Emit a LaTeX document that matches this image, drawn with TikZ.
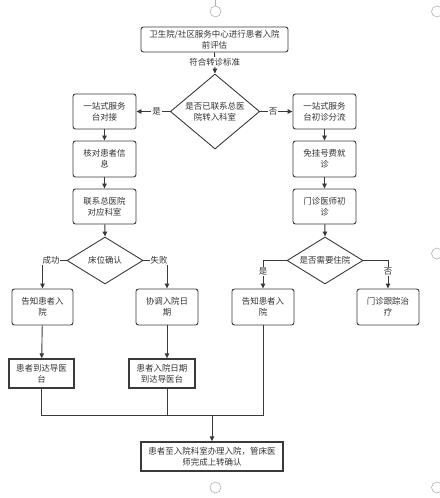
\documentclass[tikz,border=0pt]{standalone}
\usepackage{fontspec}
\setmainfont{Noto Sans CJK SC}
\usetikzlibrary{shapes.geometric,arrows.meta}
\definecolor{ln}{HTML}{3A3A3A}
\definecolor{tx}{HTML}{333333}
\begin{document}
\begin{tikzpicture}[x=1bp,y=-1bp,
  every node/.style={font=\fontsize{8.5}{11}\selectfont, text=tx, align=center, inner sep=0pt},
  rbox/.style={draw=ln, line width=0.9bp, rounded corners=2.5bp},
  sbox/.style={draw=ln, line width=1.4bp},
  dia/.style={draw=ln, line width=0.9bp, diamond, aspect=1.6},
  conn/.style={draw=ln, line width=0.9bp},
  arr/.style={conn, -{Triangle[length=5bp,width=4.5bp]}},
  lbl/.style={fill=white, inner sep=1pt},
  handle/.style={draw=gray!60, line width=0.6bp}
]
\useasboundingbox (0,0) rectangle (440,498);
% selection handles
\draw[handle] (215.5,0) -- (215.5,6);
\draw[handle] (215.5,11.5) circle (5.5);
\draw[handle] (215.5,487.5) circle (5.5);
\draw[handle] (437,11.5) circle (5.5);
\draw[handle] (437,253.5) circle (5.5);
\draw[handle] (437,487.5) circle (5.5);

% nodes
\node[rbox, minimum width=147bp, minimum height=25bp] (top) at (214.5,39.5) {卫生院/社区服务中心进行患者入院\\前评估};
\node[dia, minimum width=76bp, minimum height=75bp] (d1) at (215,111.5) {是否已联系总医\\院转入科室};
\node[rbox, minimum width=63bp, minimum height=35bp] (a1) at (104.5,111.5) {一站式服务\\台对接};
\node[rbox, minimum width=63bp, minimum height=35bp] (b1) at (324.5,111.5) {一站式服务\\台初诊分流};
\node[rbox, minimum width=63bp, minimum height=36bp] (a2) at (104.5,159) {核对患者信\\息};
\node[rbox, minimum width=63bp, minimum height=36bp] (b2) at (324.5,159) {免挂号费就\\诊};
\node[rbox, minimum width=63bp, minimum height=35bp] (a3) at (104.5,206.5) {联系总医院\\对应科室};
\node[rbox, minimum width=63bp, minimum height=35bp] (b3) at (324.5,206.5) {门诊医师初\\诊};
\node[dia, minimum width=76bp, minimum height=47bp] (d2) at (105,260.5) {床位确认};
\node[dia, minimum width=76bp, minimum height=47bp] (d3) at (325,260.5) {是否需要住院};
\node[rbox, minimum width=61bp, minimum height=36bp] (l1) at (42.5,307) {告知患者入\\院};
\node[rbox, minimum width=62bp, minimum height=36bp] (m1) at (167,307) {协调入院日\\期};
\node[rbox, minimum width=62bp, minimum height=36bp] (r1) at (263,307) {告知患者入\\院};
\node[rbox, minimum width=62bp, minimum height=36bp] (r2) at (388,307) {门诊跟踪治\\疗};
\node[sbox, minimum width=65bp, minimum height=29bp] (l2) at (41.5,373.5) {患者到达导医\\台};
\node[sbox, minimum width=66bp, minimum height=29bp] (m2) at (162,373.5) {患者入院日期\\到达导医台};
\node[sbox, minimum width=142bp, minimum height=29bp] (fin) at (212,456.5) {患者至入院科室办理入院，管床医\\师完成上转确认};

% connectors
\draw[arr] (top.south) -- node[lbl, pos=0.45] {符合转诊标准} (d1.north);
\draw[arr] (d1.west) -- node[lbl, pos=0.4] {是} (a1.east);
\draw[arr] (d1.east) -- node[lbl, pos=0.4] {否} (b1.west);
\draw[arr] (a1) -- (a2);
\draw[arr] (a2) -- (a3);
\draw[arr] (a3) -- (d2.north);
\draw[arr] (b1) -- (b2);
\draw[arr] (b2) -- (b3);
\draw[arr] (b3) -- (d3.north);
\draw[arr] (d2.west) -| (l1.north);
\node[lbl] at (51,260.5) {成功};
\draw[arr] (d2.east) -| (m1.north);
\node[lbl] at (159,260.5) {失败};
\draw[arr] (d3.west) -| node[lbl, pos=0.7] {是} (r1.north);
\draw[arr] (d3.east) -| node[lbl, pos=0.7] {否} (r2.north);
\draw[arr] (l1) -- (l2);
\draw[arr] (m1.south) -- (m1.south |- m2.north);
\coordinate (mg) at (212,415);
\draw[conn] (l2.south) |- (mg);
\draw[conn] (m1.south |- m2.south) |- (mg);
\draw[conn] (r1.south) |- (mg);
\draw[arr] (mg) -- (fin.north);
\end{tikzpicture}
\end{document}
